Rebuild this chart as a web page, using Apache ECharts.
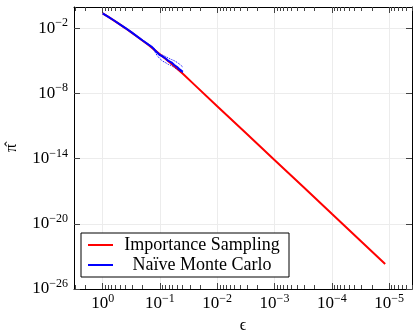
<!DOCTYPE html>
<html>
<head>
<meta charset="utf-8">
<script src="https://cdn.jsdelivr.net/npm/echarts@6/dist/echarts.min.js"></script>
<style>
  html, body { margin: 0; padding: 0; background: #fff; }
  #chart { width: 413px; height: 331px; }
</style>
</head>
<body>
<div id="chart"></div>
<script>
// importance sampling estimate
const epsIS = [1, 0.794, 0.631, 0.501, 0.398, 0.316, 0.251, 0.2, 0.158, 0.126, 0.1,
  0.0794, 0.0631, 0.0501, 0.0398, 0.0251, 0.01, 0.00316, 0.001, 0.000316, 0.0001, 0.0000316, 0.0000117];
const piIS = [0.224, 0.106, 0.049, 0.0219, 0.00955, 0.00407, 0.0017, 6.9e-4, 2.75e-4, 1.05e-4, 3.98e-5,
  1.45e-5, 5.25e-6, 1.82e-6, 6.17e-7, 6.3e-8, 6.6e-10, 2.24e-12, 7.4e-15, 2.5e-17, 8.3e-20, 2.8e-22, 2.0e-24];

// naive monte carlo estimate
const epsMC = [1, 0.794, 0.631, 0.501, 0.398, 0.316, 0.251, 0.2, 0.158, 0.141, 0.126, 0.112, 0.1,
  0.089, 0.0794, 0.0708, 0.0631, 0.0562, 0.0501, 0.0447, 0.0398];
const piMC = [0.229, 0.107, 0.05, 0.0219, 0.0098, 0.0042, 0.00174, 7.2e-4, 3.0e-4, 2.0e-4, 1.12e-4, 5.6e-5, 3.2e-5,
  2.4e-5, 1.6e-5, 9.5e-6, 7.1e-6, 4.0e-6, 2.6e-6, 1.5e-6, 9.5e-7];

// dotted spread of the monte carlo runs
const epsBand = [0.126, 0.112, 0.1, 0.089, 0.0794, 0.0708, 0.0631, 0.0562, 0.0501, 0.0447, 0.0398];
const piBandLow = [8.5e-5, 3.0e-5, 1.5e-5, 9.0e-6, 6.5e-6, 4.5e-6, 3.6e-6, 2.4e-6, 1.6e-6, 1.1e-6, 8.0e-7];
const piBandHigh = [1.3e-4, 6.5e-5, 4.0e-5, 3.2e-5, 2.4e-5, 1.7e-5, 1.3e-5, 1.0e-5, 7.0e-6, 4.5e-6, 2.6e-6];

const xTicks = [1, 0.1, 0.01, 0.001, 0.0001, 0.00001];
const xExp = ['0', '−1', '−2', '−3', '−4', '−5'];
const yTicks = [1e-2, 1e-8, 1e-14, 1e-20, 1e-26];
const yExp = ['−2', '−8', '−14', '−20', '−26'];

const xMin = 3.98e-6, xMax = 3.16;
const yMin = 1e-26, yMax = 0.87;

const FONT = 'Liberation Serif';
const rich = {
    b: { fontFamily: FONT, fontSize: 17, color: '#000', lineHeight: 22 },
    s: { fontFamily: FONT, fontSize: 12, color: '#000', verticalAlign: 'top', lineHeight: 12 }
};

function powLabel(list, exps) {
    return (v) => {
        for (let i = 0; i < list.length; i++) {
            if (Math.abs(Math.log10(v) - Math.log10(list[i])) < 1e-6) return '{b|10}{s|' + exps[i] + '}';
        }
        return '';
    };
}

// minor ticks 2..9 per decade
const xMinor = [];
for (let k = -6; k <= 0; k++) {
    for (let m = 2; m <= 9; m++) {
        const v = m * Math.pow(10, k);
        if (v >= xMin && v <= xMax) xMinor.push(v);
    }
}

const chart = echarts.init(document.getElementById('chart'));

const baseX = { type: 'log', logBase: 10, inverse: true, min: xMin, max: xMax, gridIndex: 0 };
const baseY = { type: 'log', logBase: 10, min: yMin, max: yMax, gridIndex: 0 };
const tickStyle = { color: '#444', width: 1 };

const option = {
    animation: false,
    backgroundColor: '#fff',
    grid: { left: 74, right: 1, top: 7, bottom: 42, containLabel: false, outerBoundsMode: 'none' },
    xAxis: [
        Object.assign({}, baseX, {
            position: 'bottom',
            splitNumber: 6,
            name: 'ϵ',
            nameLocation: 'middle',
            nameGap: 27,
            nameTextStyle: { fontFamily: FONT, fontSize: 16, color: '#000' },
            axisLine: { show: true, lineStyle: { color: '#000', width: 1 } },
            axisTick: { show: true, inside: true, length: 6, lineStyle: tickStyle, customValues: xTicks },
            axisLabel: { show: true, margin: 4, customValues: xTicks, formatter: powLabel(xTicks, xExp), rich: rich },
            splitLine: { show: true, lineStyle: { color: '#ececec', width: 1 } },
            minorTick: { show: false }
        }),
        Object.assign({}, baseX, {
            position: 'bottom',
            axisLine: { show: false },
            axisTick: { show: true, inside: true, length: 4, lineStyle: tickStyle, customValues: xMinor },
            axisLabel: { show: false },
            splitLine: { show: false }
        }),
        Object.assign({}, baseX, {
            position: 'top',
            axisLine: { show: true, lineStyle: { color: '#000', width: 1 } },
            axisTick: { show: true, inside: true, length: 6, lineStyle: tickStyle, customValues: xTicks },
            axisLabel: { show: false },
            splitLine: { show: false }
        }),
        Object.assign({}, baseX, {
            position: 'top',
            axisLine: { show: false },
            axisTick: { show: true, inside: true, length: 4, lineStyle: tickStyle, customValues: xMinor },
            axisLabel: { show: false },
            splitLine: { show: false }
        })
    ],
    yAxis: [
        Object.assign({}, baseY, {
            position: 'left',
            interval: 6,
            name: 'π̂',
            nameLocation: 'middle',
            nameRotate: 90,
            nameGap: 54,
            nameTextStyle: { fontFamily: FONT, fontSize: 16, color: '#000' },
            axisLine: { show: true, lineStyle: { color: '#000', width: 1 } },
            axisTick: { show: true, inside: true, length: 6, lineStyle: tickStyle, customValues: yTicks },
            axisLabel: { show: true, margin: 6, customValues: yTicks, formatter: powLabel(yTicks, yExp), rich: rich },
            splitLine: { show: true, lineStyle: { color: '#ececec', width: 1 } }
        }),
        Object.assign({}, baseY, {
            position: 'right',
            axisLine: { show: true, lineStyle: { color: '#000', width: 1 } },
            axisTick: { show: true, inside: true, length: 6, lineStyle: tickStyle, customValues: yTicks },
            axisLabel: { show: false },
            splitLine: { show: false }
        })
    ],
    legend: {
        data: [{ name: 'Importance Sampling' }, { name: 'Naïve Monte Carlo' }],
        orient: 'vertical',
        left: 81,
        top: 233,
        padding: [3, 3, 3, 7],
        itemGap: 2,
        itemWidth: 25,
        itemHeight: 2,
        icon: 'rect',
        backgroundColor: '#fff',
        borderColor: '#000',
        borderWidth: 1,
        borderRadius: 0,
        formatter: (name) => '{t|' + name + '}',
        textStyle: {
            rich: { t: { fontFamily: FONT, fontSize: 18, color: '#000', width: 168, align: 'center', lineHeight: 20 } }
        }
    },
    series: [
        {
            name: 'Importance Sampling',
            type: 'line',
            data: epsIS.map((e, i) => [e, piIS[i]]),
            showSymbol: false,
            lineStyle: { color: '#ff0000', width: 2 },
            itemStyle: { color: '#ff0000' },
            z: 2
        },
        {
            name: 'Naïve Monte Carlo',
            type: 'line',
            data: epsMC.map((e, i) => [e, piMC[i]]),
            showSymbol: false,
            lineStyle: { color: '#0000ff', width: 2 },
            itemStyle: { color: '#0000ff' },
            z: 3
        },
        {
            name: 'MC low',
            type: 'line',
            data: epsBand.map((e, i) => [e, piBandLow[i]]),
            showSymbol: false,
            lineStyle: { color: '#0000ff', width: 1, type: 'dotted' },
            z: 3
        },
        {
            name: 'MC high',
            type: 'line',
            data: epsBand.map((e, i) => [e, piBandHigh[i]]),
            showSymbol: false,
            lineStyle: { color: '#0000ff', width: 1, type: 'dotted' },
            z: 3
        }
    ]
};

chart.setOption(option);
</script>
</body>
</html>
